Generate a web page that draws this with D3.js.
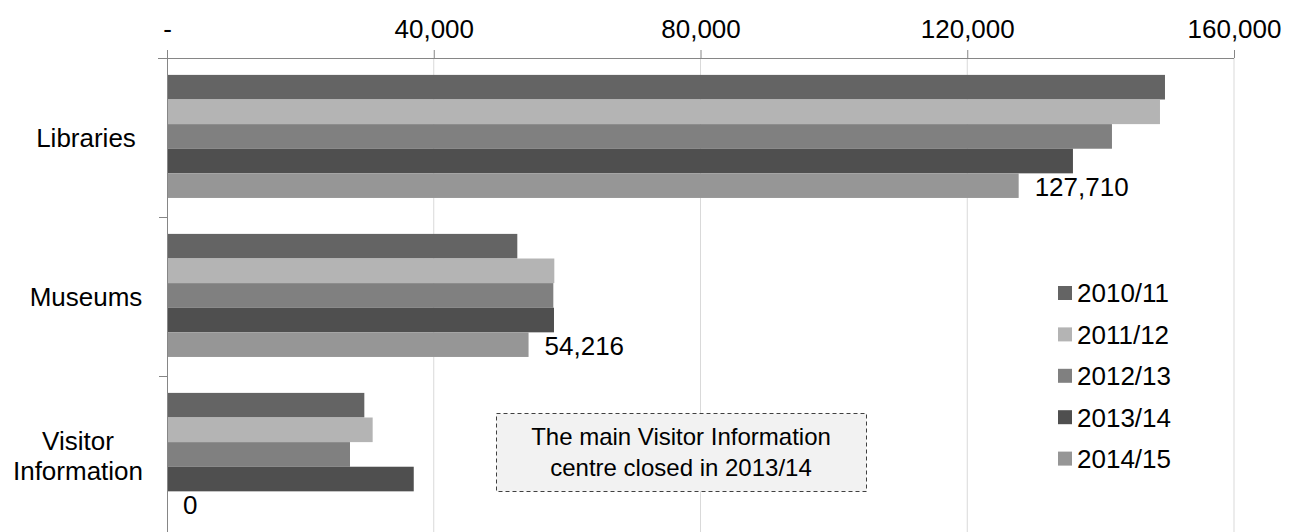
<!DOCTYPE html>
<html>
<head>
<meta charset="utf-8">
<script src="https://cdn.jsdelivr.net/npm/d3@7"></script>
<style>
  html, body { margin: 0; padding: 0; background: #fff; }
  svg { display: block; font-family: "Liberation Sans", Arial, sans-serif; }
</style>
</head>
<body>
<svg id="chart" width="1297" height="532"></svg>
<script>
// Visitor numbers by service and year
const categories = ["Libraries", "Museums", "Visitor Information"];
const seriesNames = ["2010/11", "2011/12", "2012/13", "2013/14", "2014/15"];
const libraries = [149650, 148900, 141700, 135850, 127710];
const museums = [52530, 58080, 57930, 58030, 54216];
const visitorInfo = [29590, 30840, 27440, 37000, 0];
const xTicks = [0, 40000, 80000, 120000, 160000];
const seriesColors = ["#646464", "#b4b4b4", "#808080", "#4f4f4f", "#969696"];
const annotationLines = ["The main Visitor Information", "centre closed in 2013/14"];

const values = [libraries, museums, visitorInfo];
const FS = 26;

const svg = d3.select("#chart");
const margin = { left: 167, top: 58, right: 63, bottom: -3 };
const W = 1297, H = 532;
const plotW = W - margin.left - margin.right;
const plotH = H - margin.top - margin.bottom;

const x = d3.scaleLinear().domain([0, 160000]).range([margin.left, margin.left + plotW]);
const y = d3.scaleBand().domain(categories).range([margin.top, margin.top + plotH]);
const inner = d3.scaleBand().domain(seriesNames)
  .range([0, y.bandwidth()]).paddingInner(0).paddingOuter(0.73).align(0.47);

// vertical gridlines
svg.append("g").selectAll("line")
  .data(xTicks.slice(1))
  .join("line")
  .attr("x1", d => x(d)).attr("x2", d => x(d))
  .attr("y1", margin.top).attr("y2", H)
  .attr("stroke", "#d9d9d9").attr("stroke-width", 1);

// bars
const groups = svg.append("g").selectAll("g")
  .data(categories)
  .join("g")
  .attr("transform", d => `translate(0,${y(d)})`);

groups.selectAll("rect")
  .data((c, ci) => seriesNames.map((s, si) => ({ s, si, v: values[ci][si] })))
  .join("rect")
  .attr("x", x(0))
  .attr("y", d => inner(d.s))
  .attr("width", d => x(d.v) - x(0))
  .attr("height", inner.bandwidth())
  .attr("fill", d => seriesColors[d.si]);

// value labels on the latest year
groups.append("text")
  .datum((c, ci) => values[ci][4])
  .attr("x", d => x(d) + 16)
  .attr("y", inner("2014/15") + inner.bandwidth() / 2 + 1)
  .attr("dy", "0.36em")
  .attr("font-size", FS)
  .attr("fill", "#000")
  .text(d => d3.format(",")(d));

// top axis
const xAxis = d3.axisTop(x).tickValues(xTicks).tickSize(8).tickPadding(12)
  .tickFormat(d => d === 0 ? "-" : d3.format(",")(d));
const gx = svg.append("g").attr("transform", `translate(0,${margin.top})`).call(xAxis);
gx.select(".domain").attr("stroke", "#868686").attr("d", `M${x(0) - 9},0.5H${x(160000)}`);
gx.selectAll(".tick line").attr("stroke", "#868686");
gx.selectAll(".tick text").attr("font-size", FS).attr("fill", "#000")
  .attr("font-family", "Liberation Sans, Arial, sans-serif");

// left axis
const yTickPos = [0, 1, 2, 3].map(i => margin.top + i * y.step());
svg.append("line")
  .attr("x1", x(0) + 0.5).attr("x2", x(0) + 0.5)
  .attr("y1", margin.top - 8).attr("y2", H)
  .attr("stroke", "#868686");
svg.append("g").selectAll("line")
  .data(yTickPos)
  .join("line")
  .attr("x1", x(0) - 8).attr("x2", x(0))
  .attr("y1", d => Math.round(d) + 0.5).attr("y2", d => Math.round(d) + 0.5)
  .attr("stroke", "#868686");

// category labels
const catCenters = { "Libraries": 86, "Museums": 86, "Visitor Information": 78 };
svg.append("g").selectAll("text")
  .data(categories)
  .join("text")
  .attr("text-anchor", "middle")
  .attr("font-size", FS)
  .attr("fill", "#000")
  .each(function (d) {
    const words = d.split(" ");
    const cy = y(d) + y.bandwidth() / 2;
    const lh = 29.5;
    const t = d3.select(this);
    words.forEach((w, i) => {
      t.append("tspan")
        .attr("x", catCenters[d])
        .attr("y", cy + (i - (words.length - 1) / 2) * lh)
        .attr("dy", "0.36em")
        .text(w);
    });
  });

// legend
const legend = svg.append("g").attr("transform", "translate(1058,293)");
const lg = legend.selectAll("g")
  .data(seriesNames)
  .join("g")
  .attr("transform", (d, i) => `translate(0,${i * 41.4})`);
lg.append("rect")
  .attr("x", 0).attr("y", -7).attr("width", 14).attr("height", 14)
  .attr("fill", (d, i) => seriesColors[i]);
lg.append("text")
  .attr("x", 19).attr("y", 0).attr("dy", "0.36em")
  .attr("font-size", FS).attr("fill", "#000")
  .text(d => d);

// annotation box
const note = svg.append("g");
note.append("rect")
  .attr("x", 496.5).attr("y", 413.5).attr("width", 370).attr("height", 78)
  .attr("fill", "#f2f2f2").attr("stroke", "#404040")
  .attr("stroke-width", 1).attr("stroke-dasharray", "4,3");
note.append("text")
  .attr("text-anchor", "middle").attr("font-size", 24).attr("fill", "#000")
  .selectAll("tspan")
  .data(annotationLines)
  .join("tspan")
  .attr("x", 681)
  .attr("y", (d, i) => 445 + i * 31)
  .text(d => d);
</script>
</body>
</html>
